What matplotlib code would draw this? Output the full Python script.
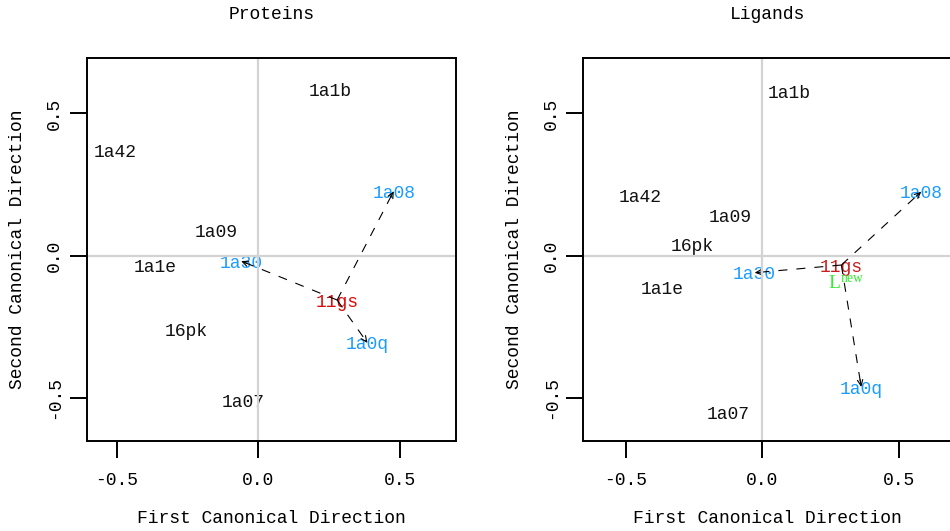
import matplotlib
matplotlib.use("Agg")
import matplotlib.pyplot as plt

plt.rcParams["font.family"] = ["Liberation Mono", "DejaVu Sans Mono"]
plt.rcParams["lines.scale_dashes"] = False

# Canonical coordinates of the protein structures (first / second direction)
protein_names = ["1a1b", "1a42", "1a08", "1a09", "1a1e", "1a30", "11gs", "16pk", "1a0q", "1a07"]
protein_x = [0.253, -0.506, 0.478, -0.149, -0.365, -0.061, 0.278, -0.255, 0.385, -0.054]
protein_y = [0.583, 0.369, 0.227, 0.088, -0.033, -0.019, -0.156, -0.261, -0.307, -0.510]

# Canonical coordinates of the bound ligands
ligand_names = ["1a1b", "1a42", "1a08", "1a09", "1a1e", "1a30", "11gs", "16pk", "1a0q", "1a07"]
ligand_x = [0.099, -0.449, 0.583, -0.116, -0.368, -0.028, 0.290, -0.255, 0.363, -0.123]
ligand_y = [0.577, 0.213, 0.225, 0.141, -0.113, -0.060, -0.033, 0.038, -0.462, -0.552]

# Projected new ligand
new_ligand_x = 0.310
new_ligand_y = -0.094

query = "11gs"
neighbours = ["1a08", "1a30", "1a0q"]

tick_values = [-0.5, 0.0, 0.5]
tick_labels = ["-0.5", "0.0", "0.5"]

BLUE = "#1c9cff"
GREY = "#d3d3d3"
FS = 13


def panel(ax, names, xs, ys, title, query_color, xlim, ylim):
    ax.set_xlim(*xlim)
    ax.set_ylim(*ylim)
    pos = dict(zip(names, zip(xs, ys)))

    for name, x, y in zip(names, xs, ys):
        if name == query:
            color = query_color
        elif name in neighbours:
            color = BLUE
        else:
            color = "#111111"
        ax.text(x, y, name, color=color, fontsize=FS, ha="center",
                va="center_baseline", zorder=2)

    # dashed arrows from the query to its nearest neighbours
    qx, qy = pos[query]
    for nb in neighbours:
        tx, ty = pos[nb]
        ax.plot([qx, tx], [qy, ty], color="black", lw=0.8,
                linestyle=(0, (6.5, 6.5)), zorder=3)
        fx = tx - 0.06 * (tx - qx)
        fy = ty - 0.06 * (ty - qy)
        ax.annotate("", xy=(tx, ty), xytext=(fx, fy),
                    arrowprops=dict(arrowstyle="->,head_length=0.35,head_width=0.16",
                                    lw=0.8, color="black", shrinkA=0, shrinkB=0,
                                    mutation_scale=12),
                    zorder=3)

    ax.axhline(0, color=GREY, lw=1.6, zorder=4)
    ax.axvline(0, color=GREY, lw=1.6, zorder=4)

    ax.set_xticks(tick_values)
    ax.set_xticklabels(tick_labels)
    ax.set_yticks(tick_values)
    ax.set_yticklabels(tick_labels, rotation=90, va="center")
    ax.tick_params(axis="both", direction="out", length=12.5, width=1.4,
                   labelsize=FS, color="black")
    ax.tick_params(axis="x", pad=10.5)
    ax.tick_params(axis="y", pad=4.5)
    for sp in ax.spines.values():
        sp.set_linewidth(1.4)
        sp.set_zorder(5)

    ax.set_xlabel("First Canonical Direction", fontsize=FS)
    ax.xaxis.label.set_va("center_baseline")
    ax.xaxis.set_label_coords(0.5, -0.198)
    ax.set_ylabel("Second Canonical Direction", fontsize=FS)
    ax.yaxis.label.set_va("center_baseline")
    ax.yaxis.set_label_coords(-0.193, 0.5)

    ax.set_title(title, fontsize=FS, y=1.118, va="center_baseline", pad=0)


fig = plt.figure(figsize=(9.5, 5.31), dpi=100)
ax1 = fig.add_axes([0.0913, 0.1704, 0.3882, 0.7204])
ax2 = fig.add_axes([0.6140, 0.1704, 0.3882, 0.7204])

panel(ax1, protein_names, protein_x, protein_y, "Proteins", "#e00a0a",
      (-0.606, 0.696), (-0.650, 0.695))
panel(ax2, ligand_names, ligand_x, ligand_y, "Ligands", "#c81e1e",
      (-0.656, 0.696), (-0.650, 0.695))

ax2.text(new_ligand_x, new_ligand_y, r"$\mathregular{L^{new}}$", color="#33ee33",
         fontsize=14, family="Liberation Serif", ha="center",
         va="center_baseline", zorder=2)

fig.savefig("out.png", dpi=100)
